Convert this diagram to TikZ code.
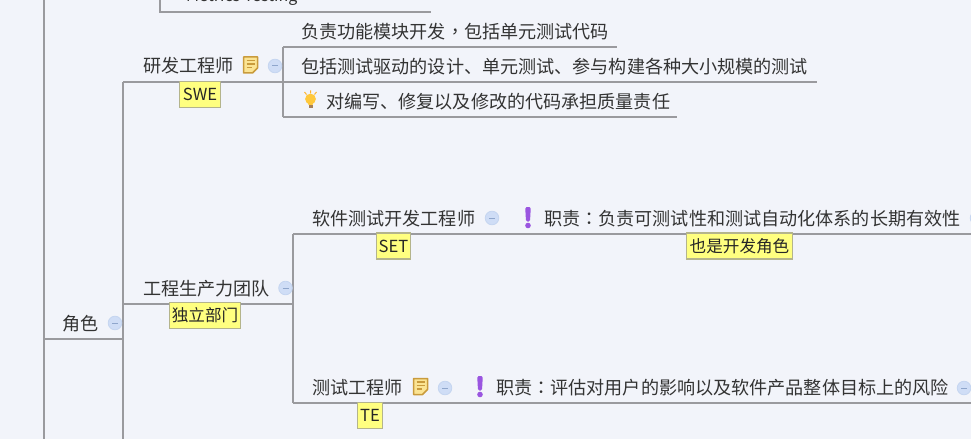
\documentclass[tikz,border=0pt]{standalone}
\usepackage{fontspec}
\setmainfont{Noto Sans CJK SC}
\newfontfamily\midpunct{Noto Sans CJK TC}
\definecolor{canvasbg}{HTML}{F2F4FA}
\definecolor{branchline}{HTML}{9A9A9E}
\definecolor{inktext}{HTML}{333333}
\definecolor{tagfill}{HTML}{FFFF80}
\definecolor{tagline}{HTML}{B4B48C}
\definecolor{foldfill}{HTML}{CFDDF6}
\definecolor{foldline}{HTML}{8FA6CC}
\definecolor{notefill}{HTML}{FBE493}
\definecolor{noteline}{HTML}{C99B3C}
\definecolor{bangfill}{HTML}{9A55E0}
\definecolor{bulbfill}{HTML}{FFC83C}
\tikzset{
  topic/.style={inner sep=0pt, anchor=west, text=inktext, font=\fontsize{18.1}{20}\selectfont},
  tagbox/.style={draw=tagline, fill=tagfill, line width=1.2pt, inner sep=0pt, text=black!85, font=\fontsize{16.6}{18}\selectfont},
  branch/.style={draw=branchline, line width=1.3pt},
  pics/fold/.style={code={
    \draw[fill=foldfill, draw=foldfill!85!foldline, line width=.8pt] (0,0) circle (6.8);
    \draw[foldline, line width=1pt] (-3,0) -- (3,0);
  }},
  pics/noteicon/.style={code={
    \draw[fill=notefill, draw=noteline, line width=1.5pt, line join=round] (-7,-8) -- (7,-8) -- (7,3) -- (2,8) -- (-7,8) -- cycle;
    \draw[noteline, line width=1.3pt] (-4,-4.5) -- (4,-4.5) (-4,-1) -- (4,-1) (-4,2.5) -- (1,2.5);
  }},
  pics/bang/.style={code={
    \fill[bangfill, rounded corners=1.5pt] (-2.8,-10.5) -- (2.8,-10.5) -- (2,4) -- (-2,4) -- cycle;
    \fill[bangfill] (0,8) circle (2.8);
  }},
  pics/bulb/.style={code={
    \draw[bulbfill!70!orange, line width=1pt] (-6,-8) -- (-4,-5.5) (0,-9.5) -- (0,-6.5) (6,-8) -- (4,-5.5);
    \fill[bulbfill] (0,-1) circle (5.4);
    \fill[bulbfill] (-3,1) -- (3,1) -- (2,5) -- (-2,5) -- cycle;
    \fill[gray!70!orange] (-2,5) rectangle (2,8.5);
  }},
}
\begin{document}
\begin{tikzpicture}[x=1pt, y=-1pt]
\useasboundingbox (0,0) rectangle (971,441);
\begin{scope}
\clip (0,0) rectangle (971,441);
\fill[canvasbg] (0,0) rectangle (971,439);

% junctions
\coordinate (rootTop) at (44,0);
\coordinate (rootEnd) at (44,439);
\coordinate (roleL) at (44,339);
\coordinate (roleR) at (123,339);
\coordinate (rolesTop) at (123,82);
\coordinate (rolesEnd) at (123,439);
\coordinate (sweR) at (283,82);
\coordinate (dutyOneL) at (283,47);
\coordinate (dutyOneR) at (617,47);
\coordinate (dutyTwoR) at (817,82);
\coordinate (dutyThreeL) at (283,117);
\coordinate (dutyThreeR) at (677,117);
\coordinate (teamL) at (123,304);
\coordinate (teamR) at (293,304);
\coordinate (setL) at (293,234);
\coordinate (setR) at (971,234);
\coordinate (teL) at (293,403);
\coordinate (teR) at (971,403);
\coordinate (metricsTop) at (160,0);
\coordinate (metricsL) at (160,12);
\coordinate (metricsR) at (431,12);

% branches
\draw[branch] (rootTop) -- (rootEnd);
\draw[branch] (roleL) -- (roleR);
\draw[branch] (rolesTop) -- (rolesEnd);
\draw[branch] (rolesTop) -- (sweR);
\draw[branch] (dutyOneL) -- (dutyThreeL);
\draw[branch] (dutyOneL) -- (dutyOneR);
\draw[branch] (sweR) -- (dutyTwoR);
\draw[branch] (dutyThreeL) -- (dutyThreeR);
\draw[branch] (teamL) -- (teamR);
\draw[branch] (setL) -- (teL);
\draw[branch] (setL) -- (setR);
\draw[branch] (teL) -- (teR);
\draw[branch] (metricsTop) -- (metricsL) -- (metricsR);

% topics
\node[topic, font=\fontsize{16}{18}\selectfont] (metrics) at (186,-3) {Metrics Testing};
\node[topic] (role) at (62,324) {角色};
\node[topic] (swe) at (143,66) {研发工程师};
\node[topic] (dutyOne) at (301,32) {负责功能模块开发{\midpunct ，}包括单元测试代码};
\node[topic] (dutyTwo) at (301,67) {包括测试驱动的设计、单元测试、参与构建各种大小规模的测试};
\node[topic] (dutyThree) at (326,102) {对编写、修复以及修改的代码承担质量责任};
\node[topic] (team) at (143,289) {工程生产力团队};
\node[topic] (setrole) at (312,219) {软件测试开发工程师};
\node[topic] (setduty) at (544,219) {职责{\midpunct ：}负责可测试性和测试自动化体系的长期有效性};
\node[topic] (terole) at (312,388) {测试工程师};
\node[topic] (teduty) at (496,388) {职责{\midpunct ：}评估对用户的影响以及软件产品整体目标上的风险};

% tags
\node[tagbox, minimum width=41pt, minimum height=26pt] (sweTag) at (200,94.5) {SWE};
\node[tagbox, minimum width=71pt, minimum height=26pt] (teamTag) at (205,315.5) {独立部门};
\node[tagbox, minimum width=34pt, minimum height=26pt] (setTag) at (393.5,246) {SET};
\node[tagbox, minimum width=106pt, minimum height=26pt] (alsoTag) at (739.5,246) {也是开发角色};
\node[tagbox, minimum width=25pt, minimum height=26pt] (teTag) at (370,415.5) {TE};

% markers
\pic at (115,323) {fold};
\pic at (275,66) {fold};
\pic at (285.5,288) {fold};
\pic at (492,218) {fold};
\pic at (977,218) {fold};
\pic at (445,388) {fold};
\pic at (964,388) {fold};
\pic at (250.5,65) {noteicon};
\pic at (420.5,386.5) {noteicon};
\pic at (528,217.5) {bang};
\pic at (480,386.5) {bang};
\pic at (310.5,100) {bulb};
\end{scope}
\end{tikzpicture}
\end{document}
